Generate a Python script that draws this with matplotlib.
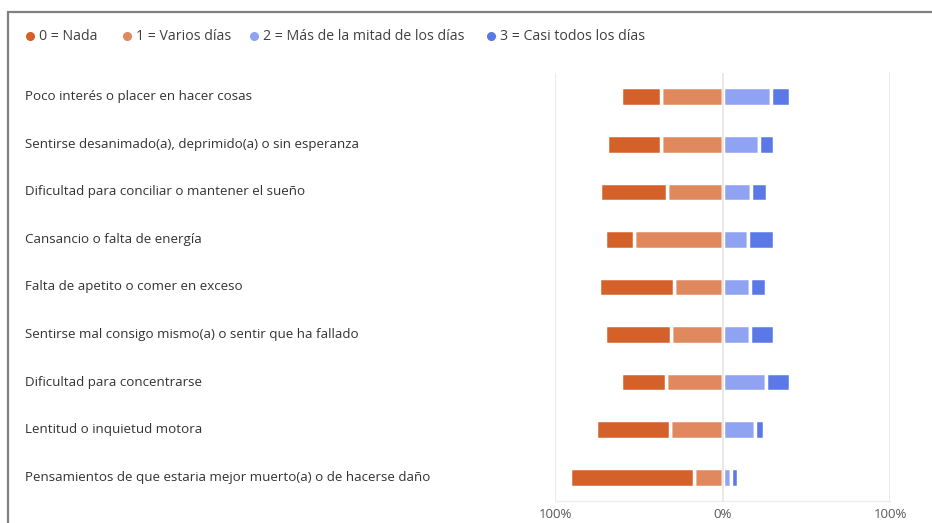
import matplotlib

matplotlib.use("Agg")
import matplotlib.pyplot as plt
import matplotlib.transforms as mtransforms
from matplotlib.lines import Line2D
from matplotlib.patches import Rectangle
import numpy as np

plt.rcParams["font.family"] = ["Open Sans", "DejaVu Sans"]

CATEGORIES = [
    "Poco interés o placer en hacer cosas",
    "Sentirse desanimado(a), deprimido(a) o sin esperanza",
    "Dificultad para conciliar o mantener el sueño",
    "Cansancio o falta de energía",
    "Falta de apetito o comer en exceso",
    "Sentirse mal consigo mismo(a) o sentir que ha fallado",
    "Dificultad para concentrarse",
    "Lentitud o inquietud motora",
    "Pensamientos de que estaria mejor muerto(a) o de hacerse daño",
]
SERIES = [
    "0 = Nada",
    "1 = Varios días",
    "2 = Más de la mitad de los días",
    "3 = Casi todos los días",
]
# percent of respondents per answer
NADA = [23.5, 32, 40, 17, 45, 39, 27, 44, 74]
VARIOS = [37, 37, 33, 53, 29, 31, 33.5, 31.5, 17]
MAS_MITAD = [29, 22, 17, 15.5, 16.5, 16.5, 26, 19.5, 5]
CASI_TODOS = [11, 9, 9.5, 15, 9.5, 14, 14, 5, 4.5]
X_TICKS = [-100, 0, 100]
X_TICK_LABELS = ["100%", "0%", "100%"]

COLORS = ["#d4602a", "#e0895f", "#8fa3f2", "#5b78e7"]
W, H = 932, 523

fig = plt.figure(figsize=(W / 100, H / 100), dpi=100)
ax = fig.add_axes([0.5955, 0.042, 0.3595, 0.8185])

y = np.arange(len(CATEGORIES))
nada = np.array(NADA)
varios = np.array(VARIOS)
mas = np.array(MAS_MITAD)
casi = np.array(CASI_TODOS)

bar_kw = dict(height=0.39, edgecolor="white", linewidth=2.5, zorder=2)
# negative side: "Varios días" next to zero, "Nada" outside it
ax.barh(y, -varios, left=0, color=COLORS[1], **bar_kw)
ax.barh(y, -nada, left=-varios, color=COLORS[0], **bar_kw)
# positive side
ax.barh(y, mas, left=0, color=COLORS[2], **bar_kw)
ax.barh(y, casi, left=mas, color=COLORS[3], **bar_kw)

for xv in X_TICKS:
    ax.axvline(xv, color="#e6e6e6", lw=1.2, zorder=3 if xv == 0 else 1)

ax.set_xlim(-100, 100)
ax.set_ylim(len(CATEGORIES) - 0.5, -0.5)
ax.set_xticks(X_TICKS)
ax.set_xticklabels(X_TICK_LABELS, color="#595959", fontsize=9.5)
ax.tick_params(axis="x", length=0, pad=5)
ax.set_yticks([])
for side in ("top", "left", "right"):
    ax.spines[side].set_visible(False)
ax.spines["bottom"].set_color("#ececec")
ax.spines["bottom"].set_linewidth(1.0)

# category labels, left aligned near the frame
trans = mtransforms.blended_transform_factory(fig.transFigure, ax.transData)
for yi, label in zip(y, CATEGORIES):
    ax.text(25 / W, yi, label, transform=trans, ha="left", va="center",
            fontsize=9.6, color="#333333")

# legend row along the top
legend_x = [30, 127, 254, 491]
legend_y = 1 - 36 / H
for px, color, name in zip(legend_x, COLORS, SERIES):
    fig.add_artist(Line2D([px / W], [legend_y], transform=fig.transFigure,
                          marker="o", markersize=5.5, linestyle="none",
                          markerfacecolor=color, markeredgecolor=color))
    fig.text((px + 9) / W, legend_y, name, ha="left", va="center",
             fontsize=10.2, color="#404040")

# outer frame of the chart area
fig.patches.append(Rectangle((8 / W, -0.05), 1.2, 1 - 12 / H + 0.05,
                             transform=fig.transFigure, fill=False,
                             edgecolor="#808080", linewidth=1.6))

fig.savefig("out.png", dpi=100)
